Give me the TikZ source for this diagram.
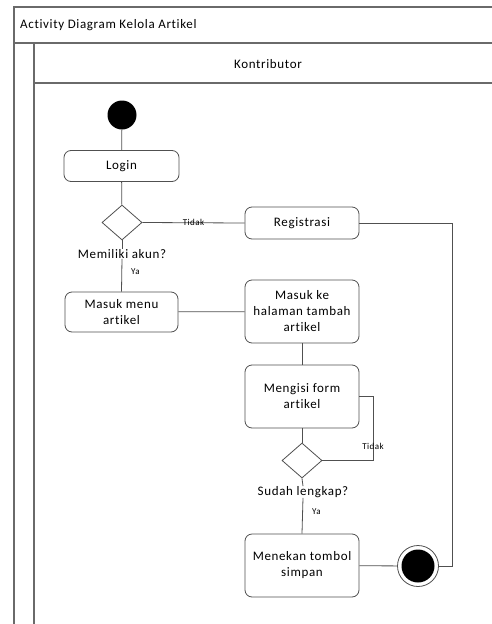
\documentclass[tikz,border=0pt]{standalone}
\usepackage{fontspec}
\setmainfont{Carlito}[LetterSpace=5, Ligatures=NoCommon]
\usetikzlibrary{shapes.geometric}
\definecolor{frameline}{HTML}{6A6A6A}
\definecolor{edgeline}{HTML}{505050}
\tikzset{
  frame/.style={draw=frameline, line width=1.3pt},
  act/.style={draw=edgeline, line width=0.8pt, rounded corners=7pt, align=center,
              font=\fontsize{13}{16}\selectfont, inner sep=0pt},
  dec/.style={draw=edgeline, line width=0.8pt, diamond, minimum width=40pt,
              minimum height=35pt, inner sep=0pt, fill=white},
  flow/.style={draw=edgeline, line width=0.8pt},
  guard/.style={font=\fontsize{9}{10}\selectfont, inner sep=1pt},
  caption/.style={font=\fontsize{13}{15}\selectfont, inner sep=0pt},
}
\begin{document}
\begin{tikzpicture}[x=1pt, y=-1pt]
\useasboundingbox[fill=white] (0,0) rectangle (492,624);
% swimlane frame
\draw[frame] (14,624) -- (14,7) -- (500,7);
\draw[frame] (14,43) -- (500,43);
\draw[frame] (34,624) -- (34,43);
\draw[frame] (34,83) -- (500,83);
\node[caption, anchor=west] (title) at (20,25) {Activity Diagram Kelola Artikel};
\node[caption] (lane) at (268,64) {Kontributor};

% nodes
\node[circle, fill=black, minimum size=29pt, inner sep=0pt] (start) at (122,115) {};
\node[act, minimum width=115pt, minimum height=31pt] (login) at (121.5,166) {Login};
\node[dec] (d1) at (122,222.5) {};
\node[caption] (q1) at (122,254) {Memiliki akun?};
\node[act, minimum width=114pt, minimum height=32pt] (reg) at (302,223) {Registrasi};
\node[act, minimum width=113pt, minimum height=40pt] (menu) at (121.5,312) {Masuk menu\\artikel};
\node[act, minimum width=114pt, minimum height=63pt] (tambah) at (302,311.5) {Masuk ke\\halaman tambah\\artikel};
\node[act, minimum width=114pt, minimum height=63pt] (form) at (302,396.5) {Mengisi form\\artikel};
\node[dec] (d2) at (302,460.5) {};
\node[caption] (q2) at (303,492) {Sudah lengkap?};
\node[act, minimum width=114pt, minimum height=63pt] (simpan) at (302,565.5) {Menekan tombol\\simpan};
\node[circle, draw=edgeline, line width=0.8pt, fill=white, minimum size=41pt, inner sep=0pt] (end) at (418,566) {};
\node[circle, fill=black, minimum size=33pt, inner sep=0pt] (endin) at (end.center) {};

% flows
\draw[flow] (start) -- (login);
\draw[flow] (login) -- (d1);
\draw[flow] (d1.east) -- node[guard, pos=0.5] {Tidak} (reg.west);
\draw[flow] (d1.south) -- (q1.north);
\draw[flow] (q1.south) -- (menu.north) node[guard, pos=0.4, anchor=west, xshift=8pt] {Ya};
\draw[flow] (menu) -- (tambah);
\draw[flow] (tambah) -- (form);
\draw[flow] (form) -- (d2);
\coordinate (loop) at (373,460.5);
\draw[flow] (d2.east) -- (loop) -- node[guard, pos=0.22] {Tidak} (loop |- form.east) -- (form.east);
\draw[flow] (d2.south) -- (q2.north);
\draw[flow] (q2.south) -- (simpan.north) node[guard, pos=0.4, anchor=west, xshift=8pt] {Ya};
\draw[flow] (simpan) -- (end);
\coordinate (back) at (452,223);
\draw[flow] (reg.east) -- (back) -- (back |- end.east) -- (end.east);
\end{tikzpicture}
\end{document}
